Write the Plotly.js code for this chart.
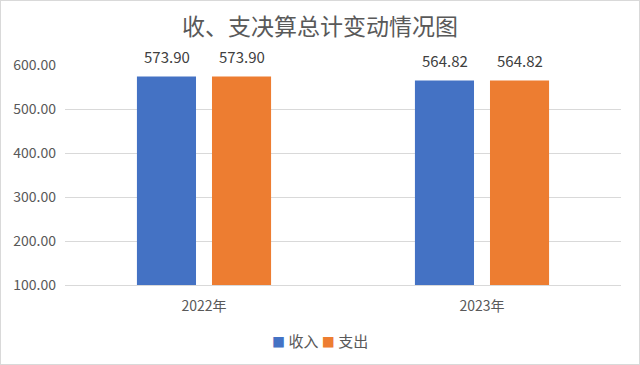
<!DOCTYPE html>
<html>
<head>
<meta charset="utf-8">
<script src="https://cdn.plot.ly/plotly-3.0.1.min.js"></script>
<style>
html,body{margin:0;padding:0;background:#fff;}
#wrap{position:relative;width:640px;height:365px;}
#chart{position:absolute;left:0;top:0;width:640px;height:365px;}
#border{position:absolute;left:0;top:0;width:638px;height:363px;border:1px solid #d9d9d9;pointer-events:none;}
</style>
</head>
<body>
<div id="wrap"><div id="chart"></div><div id="border"></div></div>
<script>
const categories = ["2022年", "2023年"];
const incomeValues = [573.90, 564.82];
const expenseValues = [573.90, 564.82];
const seriesNames = ["收入", "支出"];
const seriesColors = ["#4472C4", "#ED7D31"];
const titleText = "收、支决算总计变动情况图";

const FONT = "'Noto Sans CJK SC', 'Noto Sans', sans-serif";

function mkTrace(name, vals, color) {
  return {
    type: 'bar', name: name, x: categories, y: vals,
    marker: {color: color},
    hoverinfo: 'skip'
  };
}

const series = [incomeValues, expenseValues];
const data = series.map((vals, i) => mkTrace(seriesNames[i], vals, seriesColors[i]));

// data labels placed above each bar via the axes
const annotations = [];
series.forEach((vals, s) => {
  vals.forEach((v, i) => {
    annotations.push({
      x: categories[i], y: v, xref: 'x', yref: 'y',
      text: v.toFixed(2), showarrow: false,
      xshift: s === 0 ? -37.5 : 37.5, yshift: 20, yanchor: 'middle',
      font: {family: FONT, size: 15, color: '#404040'}
    });
  });
});

// custom legend
const legendText = seriesNames.map((n, i) =>
  '<span style="color:' + seriesColors[i] + ';font-size:13px">■</span> ' + n).join(' ');
annotations.push({
  xref: 'paper', yref: 'paper', x: (320 - 65) / 556, y: -0.25,
  xanchor: 'center', yanchor: 'middle', showarrow: false,
  text: legendText, font: {family: FONT, size: 15, color: '#595959'}
});

const layout = {
  width: 640, height: 365,
  margin: {l: 65, r: 19, t: 65, b: 80},
  paper_bgcolor: '#fff', plot_bgcolor: '#fff',
  font: {family: FONT, color: '#595959'},
  title: {text: titleText, font: {family: FONT, size: 23, color: '#595959'},
          x: 0.5, xanchor: 'center', y: 1 - 27 / 365, yanchor: 'middle', yref: 'container'},
  barmode: 'group', bargap: 0.46, bargroupgap: 0.213,
  xaxis: {showline: true, linecolor: '#d9d9d9', linewidth: 1, ticks: '',
          ticklabelstandoff: 8,
          tickfont: {family: FONT, size: 14, color: '#595959'}, fixedrange: true},
  yaxis: {range: [100, 600], dtick: 100, tick0: 100, tickformat: '.2f',
          showgrid: true, gridcolor: '#d9d9d9', gridwidth: 1, zeroline: false,
          ticks: '', ticklabelstandoff: 8,
          tickfont: {family: FONT, size: 14, color: '#595959'}, fixedrange: true},
  showlegend: false,
  annotations: annotations
};

Plotly.newPlot('chart', data, layout, {displayModeBar: false, staticPlot: true});
</script>
</body>
</html>
